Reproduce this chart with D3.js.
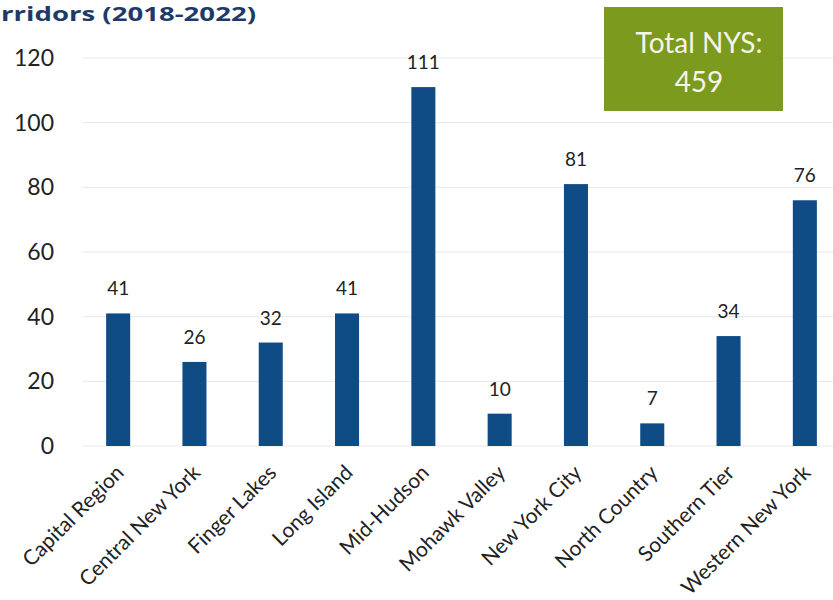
<!DOCTYPE html>
<html>
<head>
<meta charset="utf-8">
<script src="https://cdn.jsdelivr.net/npm/d3@7"></script>
<style>
  html, body { margin: 0; padding: 0; background: #ffffff; }
  svg { display: block; }
</style>
</head>
<body>
<svg id="chart" width="833" height="600"></svg>
<script>
// Regions and their counts, 2018-2022
const regions = ["Capital Region", "Central New York", "Finger Lakes", "Long Island", "Mid-Hudson",
                 "Mohawk Valley", "New York City", "North Country", "Southern Tier", "Western New York"];
const counts = [41, 26, 32, 41, 111, 10, 81, 7, 34, 76];
const yTicks = [0, 20, 40, 60, 80, 100, 120];
const totalLines = ["Total NYS:", "459"];
const titleText = "rridors (2018-2022)";

const svg = d3.select("#chart");
const font = "Lato, 'Open Sans', sans-serif";

const x = d3.scaleBand()
  .domain(regions)
  .range([80, 843])
  .paddingInner(0.685)
  .paddingOuter(0.3425);

const y = d3.scaleLinear()
  .domain([0, 120])
  .range([446, 58]);

// Title fragment
svg.append("text")
  .attr("x", 1)
  .attr("y", 21)
  .attr("font-family", "'Open Sans', sans-serif")
  .attr("font-weight", 700)
  .attr("font-size", 19)
  .attr("textLength", 255)
  .attr("lengthAdjust", "spacingAndGlyphs")
  .attr("fill", "#1f3a68")
  .text(titleText);

// Gridlines
svg.append("g")
  .selectAll("line")
  .data(yTicks)
  .join("line")
  .attr("x1", 82)
  .attr("x2", 833)
  .attr("y1", d => y(d))
  .attr("y2", d => y(d))
  .attr("stroke", "#e8e8e8")
  .attr("stroke-width", 1);

// Y axis labels
const yAxis = d3.axisLeft(y).tickValues(yTicks).tickSize(0).tickPadding(0);
const yg = svg.append("g")
  .attr("transform", "translate(54,0)")
  .call(yAxis);
yg.select(".domain").remove();
yg.selectAll("text")
  .attr("font-family", font)
  .attr("font-size", 23)
  .attr("fill", "#222");

// Bars
svg.append("g")
  .selectAll("rect")
  .data(counts)
  .join("rect")
  .attr("x", (d, i) => x(regions[i]))
  .attr("width", x.bandwidth())
  .attr("y", d => y(d))
  .attr("height", d => y(0) - y(d))
  .attr("fill", "#0f4b84");

// Value labels
svg.append("g")
  .selectAll("text")
  .data(counts)
  .join("text")
  .attr("x", (d, i) => x(regions[i]) + x.bandwidth() / 2)
  .attr("y", d => y(d) - 18)
  .attr("text-anchor", "middle")
  .attr("font-family", font)
  .attr("font-size", 19)
  .attr("fill", "#222")
  .text(d => d);

// X axis labels, rotated
const xAxis = d3.axisBottom(x).tickSize(0).tickPadding(0);
const xg = svg.append("g")
  .attr("transform", "translate(0,474)")
  .call(xAxis);
xg.select(".domain").remove();
xg.selectAll("text")
  .attr("font-family", font)
  .attr("font-size", 21)
  .attr("fill", "#222")
  .attr("text-anchor", "end")
  .attr("y", 0)
  .attr("dy", 0)
  .attr("transform", "translate(7,0) rotate(-45)");

// Total box
const box = svg.append("g");
box.append("rect")
  .attr("x", 604)
  .attr("y", 7)
  .attr("width", 179)
  .attr("height", 104)
  .attr("fill", "#7b9a1e");
box.selectAll("text")
  .data(totalLines)
  .join("text")
  .attr("x", 699)
  .attr("y", (d, i) => 53 + i * 39)
  .attr("text-anchor", "middle")
  .attr("font-family", font)
  .attr("font-size", 28)
  .attr("fill", "#f4f4e8")
  .text(d => d);
</script>
</body>
</html>
